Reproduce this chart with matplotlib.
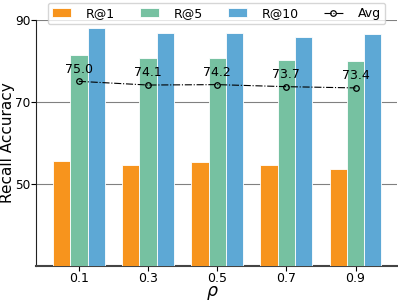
import numpy as np
import matplotlib
matplotlib.use('Agg')
import matplotlib.pyplot as plt

# datos
rho = ['0.1', '0.3', '0.5', '0.7', '0.9']
r1 = [55.5, 54.6, 55.4, 54.7, 53.7]
r5 = [81.5, 80.8, 80.6, 80.3, 80.0]
r10 = [88.0, 86.9, 86.7, 85.9, 86.5]
avg = [75.0, 74.1, 74.2, 73.7, 73.4]

c_r1 = '#F7941D'
c_r5 = '#76C1A1'
c_r10 = '#5DA8D5'

fig = plt.figure(figsize=(3.98, 3.01), dpi=100)
ax = fig.add_axes([0.0905, 0.117, 0.907, 0.817])

x = np.arange(len(rho))
w = 0.25
b1 = ax.bar(x - w, r1, w, color=c_r1, edgecolor='white', linewidth=0.6, label='R@1', zorder=3)
b2 = ax.bar(x, r5, w, color=c_r5, edgecolor='white', linewidth=0.6, label='R@5', zorder=3)
b3 = ax.bar(x + w, r10, w, color=c_r10, edgecolor='white', linewidth=0.6, label='R@10', zorder=3)
l1, = ax.plot(x, avg, color='black', linestyle='-.', linewidth=0.8, marker='o',
              markersize=4, markerfacecolor='none', markeredgewidth=0.9, label='Avg', zorder=4)
for xi, a in zip(x, avg):
    ax.annotate(f'{a:.1f}', (xi, a), xytext=(0, 4), textcoords='offset points',
                ha='center', va='bottom', fontsize=9, zorder=5)

ax.set_ylim(30, 90)
ax.set_xlim(-0.62, 4.6)
ax.set_yticks([50, 70, 90])
ax.set_xticks(x)
ax.set_xticklabels(rho)
ax.tick_params(axis='y', labelsize=8.7, pad=0.6)
ax.tick_params(axis='x', labelsize=9, pad=1.0)
ax.yaxis.grid(True, color='grey', linewidth=0.8, zorder=0)
ax.spines['top'].set_visible(False)
ax.spines['right'].set_visible(False)
ax.spines['left'].set_color('#222222')
ax.spines['bottom'].set_color('#444444')
ax.spines['bottom'].set_linewidth(1.5)
ax.set_ylabel('Recall Accuracy', fontsize=11)
ax.yaxis.set_label_coords(-0.0575, 0.5)
ax.set_xlabel(r'$\rho$', fontsize=12.5)
ax.xaxis.set_label_coords(0.49, -0.074)

ax.legend([b1, b2, b3, l1], ['R@1', 'R@5', 'R@10', 'Avg'],
          loc='upper center', bbox_to_anchor=(0.5, 1.096), ncol=4, fontsize=9,
          handlelength=1.5, columnspacing=2.0, handletextpad=1.2, borderpad=0.35)

fig.savefig('out.png', dpi=100)
